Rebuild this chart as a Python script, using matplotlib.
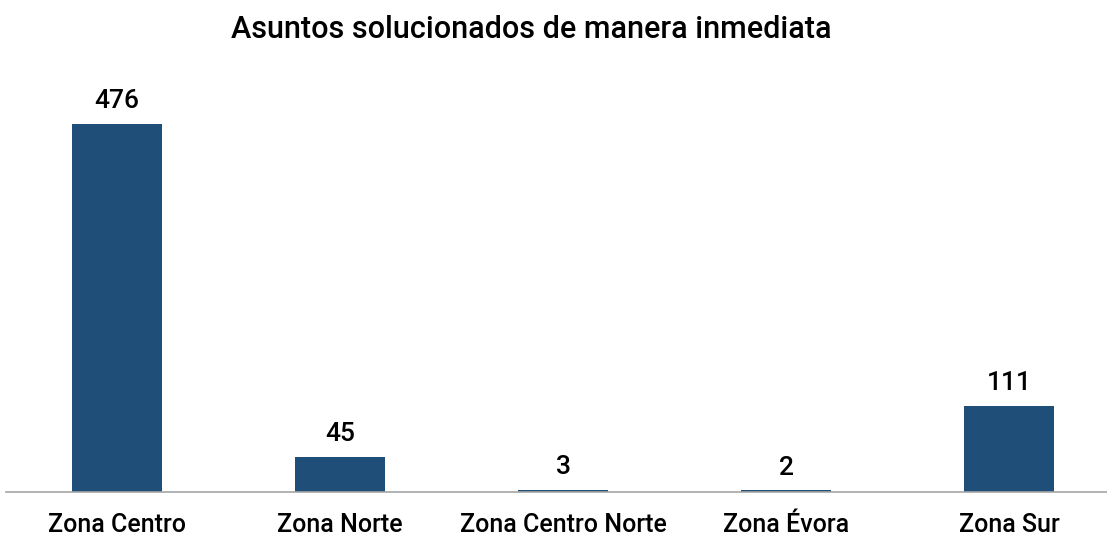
import matplotlib
matplotlib.use("Agg")
import matplotlib.pyplot as plt

zonas = ["Zona Centro", "Zona Norte", "Zona Centro Norte", "Zona Évora", "Zona Sur"]
asuntos = [476, 45, 3, 2, 111]

plt.rcParams['font.family'] = ['Roboto', 'DejaVu Sans']

fig = plt.figure(figsize=(11.07, 5.36), dpi=100)
# axes placed in pixel terms: left 6, right 1107, bottom 492, top 60
ax = fig.add_axes([6 / 1107, (536 - 492) / 536, 1101 / 1107, (492 - 60) / 536])

x = range(len(zonas))
bars = ax.bar(x, asuntos, width=0.4, color="#1F4E79")
ax.set_xlim(-0.498, (1107 - 117) / 223)
ax.set_ylim(0, (492 - 60) / 0.773)

for b, v in zip(bars, asuntos):
    ax.text(b.get_x() + b.get_width() / 2, v + 14, str(v), ha="center", va="bottom",
            fontsize=19, fontweight="medium", color="black")

ax.set_xticks(list(x))
ax.set_xticklabels(zonas, fontsize=18, fontweight="medium")
ax.tick_params(axis="x", length=0, pad=15)
ax.set_yticks([])
for s in ["top", "right", "left"]:
    ax.spines[s].set_visible(False)
ax.spines["bottom"].set_color("#A6A6A6")
ax.spines["bottom"].set_linewidth(1.2)

fig.text(531 / 1107, 1 - 30 / 536, "Asuntos solucionados de manera inmediata",
         ha="center", va="center", fontsize=22, fontweight="medium")

fig.savefig("out.png", dpi=100)
